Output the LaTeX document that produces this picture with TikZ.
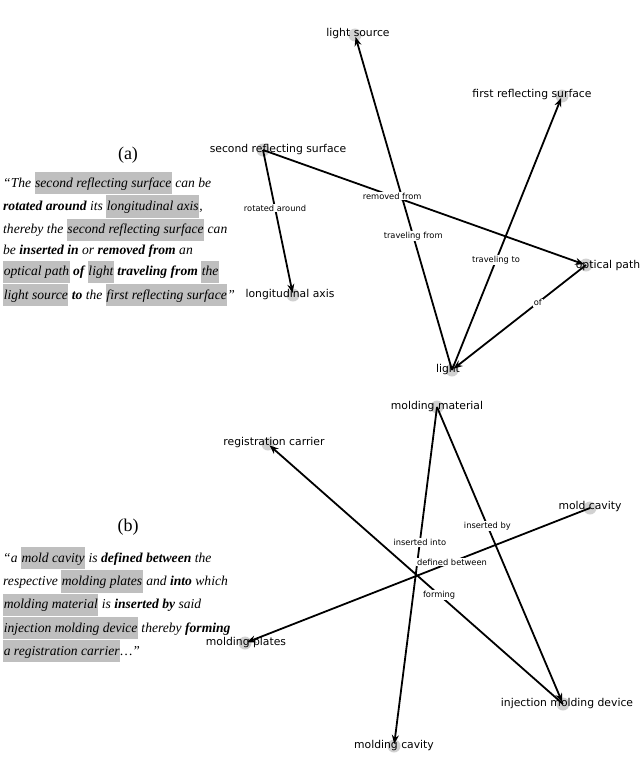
\documentclass[tikz,border=0pt]{standalone}
\usepackage{fontspec}
\setmainfont{Liberation Serif}
\newfontfamily\gsans{DejaVu Sans}
\usetikzlibrary{arrows.meta}
\newcommand{\hlw}[1]{{\setlength{\fboxsep}{0.6pt}\colorbox{black!25}{\strut #1}}}
\begin{document}
\begin{tikzpicture}[x=1pt,y=-1pt,
  dot/.style={circle,fill=black!18,minimum size=13pt,inner sep=0pt},
  lab/.style={font=\gsans\fontsize{10.8}{12}\selectfont,inner sep=1pt},
  el/.style={font=\gsans\fontsize{8.3}{9}\selectfont,fill=white,inner sep=1pt},
  edge/.style={line width=1.8pt,-{Stealth[length=9pt,width=7pt]},shorten >=2pt},
  quote/.style={font=\fontsize{13.6}{21}\selectfont\itshape,align=left,anchor=north west,inner sep=0pt}]
\useasboundingbox (0,0) rectangle (640,761);
% (a)
\node[dot] (ls) at (355,35) {};
\node[dot] (frs) at (562,96) {};
\node[dot] (srs) at (263,150) {};
\node[dot] (op) at (586,265) {};
\node[dot] (la) at (293,295) {};
\node[dot] (li) at (452,370) {};
\node[lab] at (358,34) {light source};
\node[lab] at (532,95) {first reflecting surface};
\node[lab] at (278,150) {second reflecting surface};
\node[lab] at (608,266) {optical path};
\node[lab] at (290,295) {longitudinal axis};
\node[lab] at (448,370) {light};
\draw[edge] (li.center) -- (ls.center) node[el,pos=0.4] {traveling from};
\draw[edge] (li.center) -- (frs.center) node[el,pos=0.4] {traveling to};
\draw[edge] (srs.center) -- (la.center) node[el,pos=0.4] {rotated around};
\draw[edge] (srs.center) -- (op.center) node[el,pos=0.4] {removed from};
\draw[edge] (op.center) -- (li.center) node[el,pos=0.36] {of};
% (b)
\node[dot] (mm) at (437,407) {};
\node[dot] (rc) at (268,444) {};
\node[dot] (mc) at (590,508) {};
\node[dot] (mp) at (245,643) {};
\node[dot] (imd) at (563,704) {};
\node[dot] (mcv) at (394,746) {};
\node[lab] at (437,407) {molding material};
\node[lab] at (274,443) {registration carrier};
\node[lab] at (590,507) {mold cavity};
\node[lab] at (246,643) {molding plates};
\node[lab] at (567,704) {injection molding device};
\node[lab] at (394,746) {molding cavity};
\draw[edge] (mm.center) -- (mcv.center) node[el,pos=0.4] {inserted into};
\draw[edge] (mm.center) -- (imd.center) node[el,pos=0.4] {inserted by};
\draw[edge] (mc.center) -- (mp.center) node[el,pos=0.4] {defined between};
\draw[edge] (imd.center) -- (rc.center) node[el,pos=0.42] {forming};
% texts
\node[font=\fontsize{18}{20}\selectfont] (ta) at (128,155) {(a)};
\node[quote] (qa) at (3,172) {``The \hlw{second reflecting surface} can be\\
\textbf{rotated around} its \hlw{longitudinal axis},\\
thereby the \hlw{second reflecting surface} can\\
be \textbf{inserted in} or \textbf{removed from} an\\
\hlw{optical path} \textbf{of} \hlw{light} \textbf{traveling from} \hlw{the}\\
\hlw{light source} \textbf{to} the \hlw{first reflecting surface}''};
\node[font=\fontsize{18}{20}\selectfont] (tb) at (128,527) {(b)};
\node[quote] (qb) at (3,547) {``a \hlw{mold cavity} is \textbf{defined between} the\\
respective \hlw{molding plates} and \textbf{into} which\\
\hlw{molding material} is \textbf{inserted by} said\\
\hlw{injection molding device} thereby \textbf{forming}\\
\hlw{a registration carrier}\ldots''};
\end{tikzpicture}
\end{document}
